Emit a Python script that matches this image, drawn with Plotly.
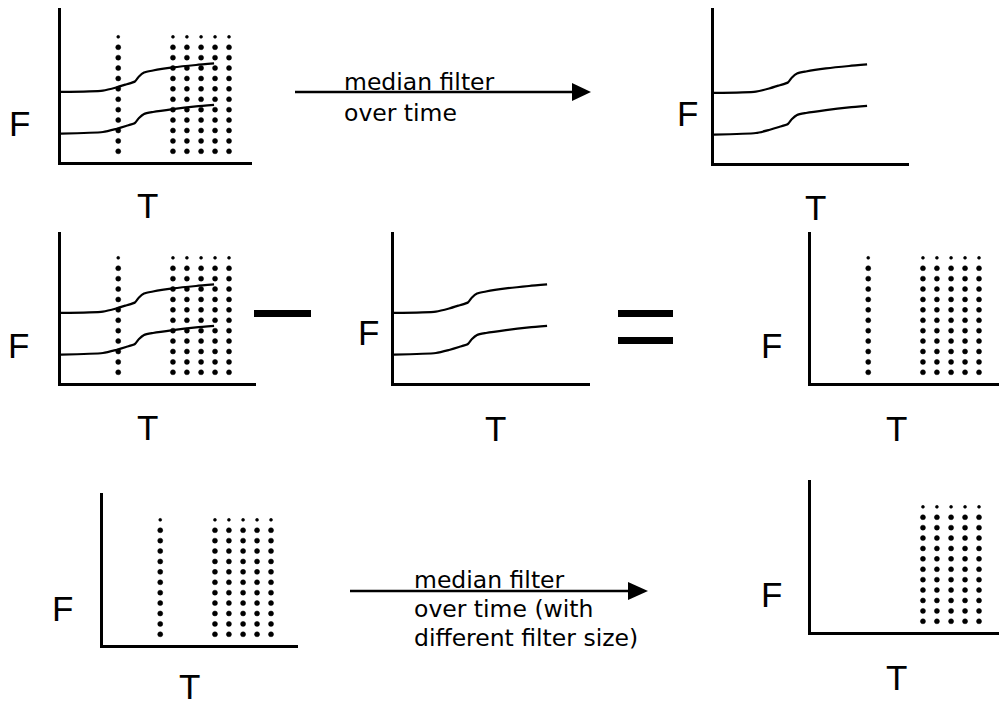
import plotly.graph_objects as go

# ---------------- data (abstract T / F units) ----------------
T_curve = [0, 2.16, 2.84, 3.35, 3.81, 4.02, 4.28, 4.74, 5.77, 6.96, 7.89]
F_upper = [4.58, 4.67, 4.87, 5.07, 5.26, 5.59, 5.85, 5.98, 6.18, 6.34, 6.44]
F_lower = [1.86, 1.96, 2.16, 2.35, 2.55, 2.88, 3.14, 3.27, 3.46, 3.63, 3.73]

T_isolated = [2.95]
T_cluster = [5.77, 6.49, 7.22, 7.94, 8.66]
F_rows = [0.70, 1.38, 2.06, 2.74, 3.42, 4.10, 4.78, 5.46, 6.14, 6.82, 7.50, 8.18]

axis_label_F = "F"
axis_label_T = "T"
arrow_text_1 = ["median filter", "over time"]
arrow_text_2 = ["median filter", "over time (with", "different filter size)"]

# ---------------- layout helpers ----------------
W, H = 999, 706
UX, UY = 19.4, 15.3  # pixels per data unit


def px(x):
    return x / W


def py(y):
    return 1 - y / H


# panel: origin x, origin y (bottom, pixels), width, height, content
panels = [
    dict(x0=61, yb=162, w=191, h=154, curves=True, iso=True, cluster=True,
         F=(19, 123), T=(147, 206)),
    dict(x0=714, yb=163, w=195, h=155, curves=True, iso=False, cluster=False,
         F=(687, 114), T=(815, 207)),
    dict(x0=61, yb=383, w=195, h=151, curves=True, iso=True, cluster=True,
         F=(18, 345), T=(147, 427)),
    dict(x0=394, yb=383, w=196, h=151, curves=True, iso=False, cluster=False,
         F=(368, 332), T=(495, 428)),
    dict(x0=811, yb=383, w=188, h=151, curves=False, iso=True, cluster=True,
         F=(771, 345), T=(896, 428)),
    dict(x0=103, yb=645, w=195, h=152, curves=False, iso=True, cluster=True,
         F=(63, 608), T=(189, 686)),
    dict(x0=811, yb=632, w=188, h=152, curves=False, iso=False, cluster=True,
         F=(771, 594), T=(896, 677)),
]

fig = go.Figure()
layout_axes = {}
annotations = []

for i, p in enumerate(panels, start=1):
    xa = "x" if i == 1 else f"x{i}"
    ya = "y" if i == 1 else f"y{i}"
    xkey = "xaxis" if i == 1 else f"xaxis{i}"
    ykey = "yaxis" if i == 1 else f"yaxis{i}"
    common = dict(showline=True, linecolor="black", linewidth=2.5,
                  showticklabels=False, ticks="", showgrid=False,
                  zeroline=False, fixedrange=True)
    layout_axes[xkey] = dict(domain=[px(p["x0"]), px(p["x0"] + p["w"])],
                             range=[0, p["w"] / UX], anchor=ya, **common)
    layout_axes[ykey] = dict(domain=[py(p["yb"]), py(p["yb"] - p["h"])],
                             range=[0, p["h"] / UY], anchor=xa, **common)

    if p["curves"]:
        for F in (F_upper, F_lower):
            fig.add_trace(go.Scatter(x=T_curve, y=F, xaxis=xa, yaxis=ya,
                                     mode="lines",
                                     line=dict(color="black", width=2.2,
                                               shape="spline", smoothing=0.6),
                                     showlegend=False, hoverinfo="skip"))
    cols = []
    if p["iso"]:
        cols += T_isolated
    if p["cluster"]:
        cols += T_cluster
    if cols:
        xs, ys, sz = [], [], []
        for t in cols:
            for k, f in enumerate(F_rows):
                xs.append(t)
                ys.append(f)
                sz.append(3 if k == len(F_rows) - 1 else 5)
        fig.add_trace(go.Scatter(x=xs, y=ys, xaxis=xa, yaxis=ya, mode="markers",
                                 marker=dict(color="#000000", size=sz, opacity=1,
                                             symbol="circle",
                                             line=dict(width=0.5, color="#000000")),
                                 opacity=1,
                                 showlegend=False, hoverinfo="skip", cliponaxis=False))

    fx, fy = p["F"]
    tx, ty = p["T"]
    annotations.append(dict(text=axis_label_F, x=px(fx), y=py(fy), xref="paper", yref="paper",
                            showarrow=False, xanchor="center", yanchor="middle",
                            font=dict(family="Liberation Sans, Arial", size=35, color="black")))
    annotations.append(dict(text=axis_label_T, x=px(tx), y=py(ty), xref="paper", yref="paper",
                            showarrow=False, xanchor="center", yanchor="middle",
                            font=dict(family="Liberation Sans, Arial", size=35, color="black")))

# arrow texts
text_font = dict(family="DejaVu Sans, Liberation Sans", size=23.5, color="black")
for txt, yc in zip(arrow_text_1, [82, 113]):
    annotations.append(dict(text=txt, x=px(342), y=py(yc), xref="paper", yref="paper",
                            showarrow=False, xanchor="left", yanchor="middle", font=text_font))
for txt, yc in zip(arrow_text_2, [580, 609, 638]):
    annotations.append(dict(text=txt, x=px(412), y=py(yc), xref="paper", yref="paper",
                            showarrow=False, xanchor="left", yanchor="middle", font=text_font))

shapes = []


def arrow(x_start, x_base, x_tip, y, half):
    shapes.append(dict(type="line", xref="paper", yref="paper",
                       x0=px(x_start), x1=px(x_base + 2), y0=py(y), y1=py(y),
                       line=dict(color="black", width=2.5)))
    shapes.append(dict(type="path", xref="paper", yref="paper",
                       path=f"M {px(x_base)} {py(y - half)} L {px(x_tip)} {py(y)} "
                            f"L {px(x_base)} {py(y + half)} Z",
                       fillcolor="black", line=dict(color="black", width=0)))


arrow(295, 572, 591, 92, 9)
arrow(350, 628, 648, 591, 9)


def bar(x0, x1, y0, y1):
    shapes.append(dict(type="rect", xref="paper", yref="paper",
                       x0=px(x0), x1=px(x1), y0=py(y0), y1=py(y1),
                       fillcolor="black", line=dict(width=0)))


bar(254, 311, 310, 317)   # minus
bar(618, 673, 310, 317)   # equals (top)
bar(618, 673, 337, 344)   # equals (bottom)

fig.update_layout(width=W, height=H, autosize=False,
                  margin=dict(l=0, r=0, t=0, b=0, pad=0),
                  paper_bgcolor="white", plot_bgcolor="white",
                  showlegend=False, annotations=annotations, shapes=shapes,
                  **layout_axes)

fig.write_html("out.html", config={"displayModeBar": False},
               post_script="document.body.style.margin='0px';document.body.style.padding='0px';")
